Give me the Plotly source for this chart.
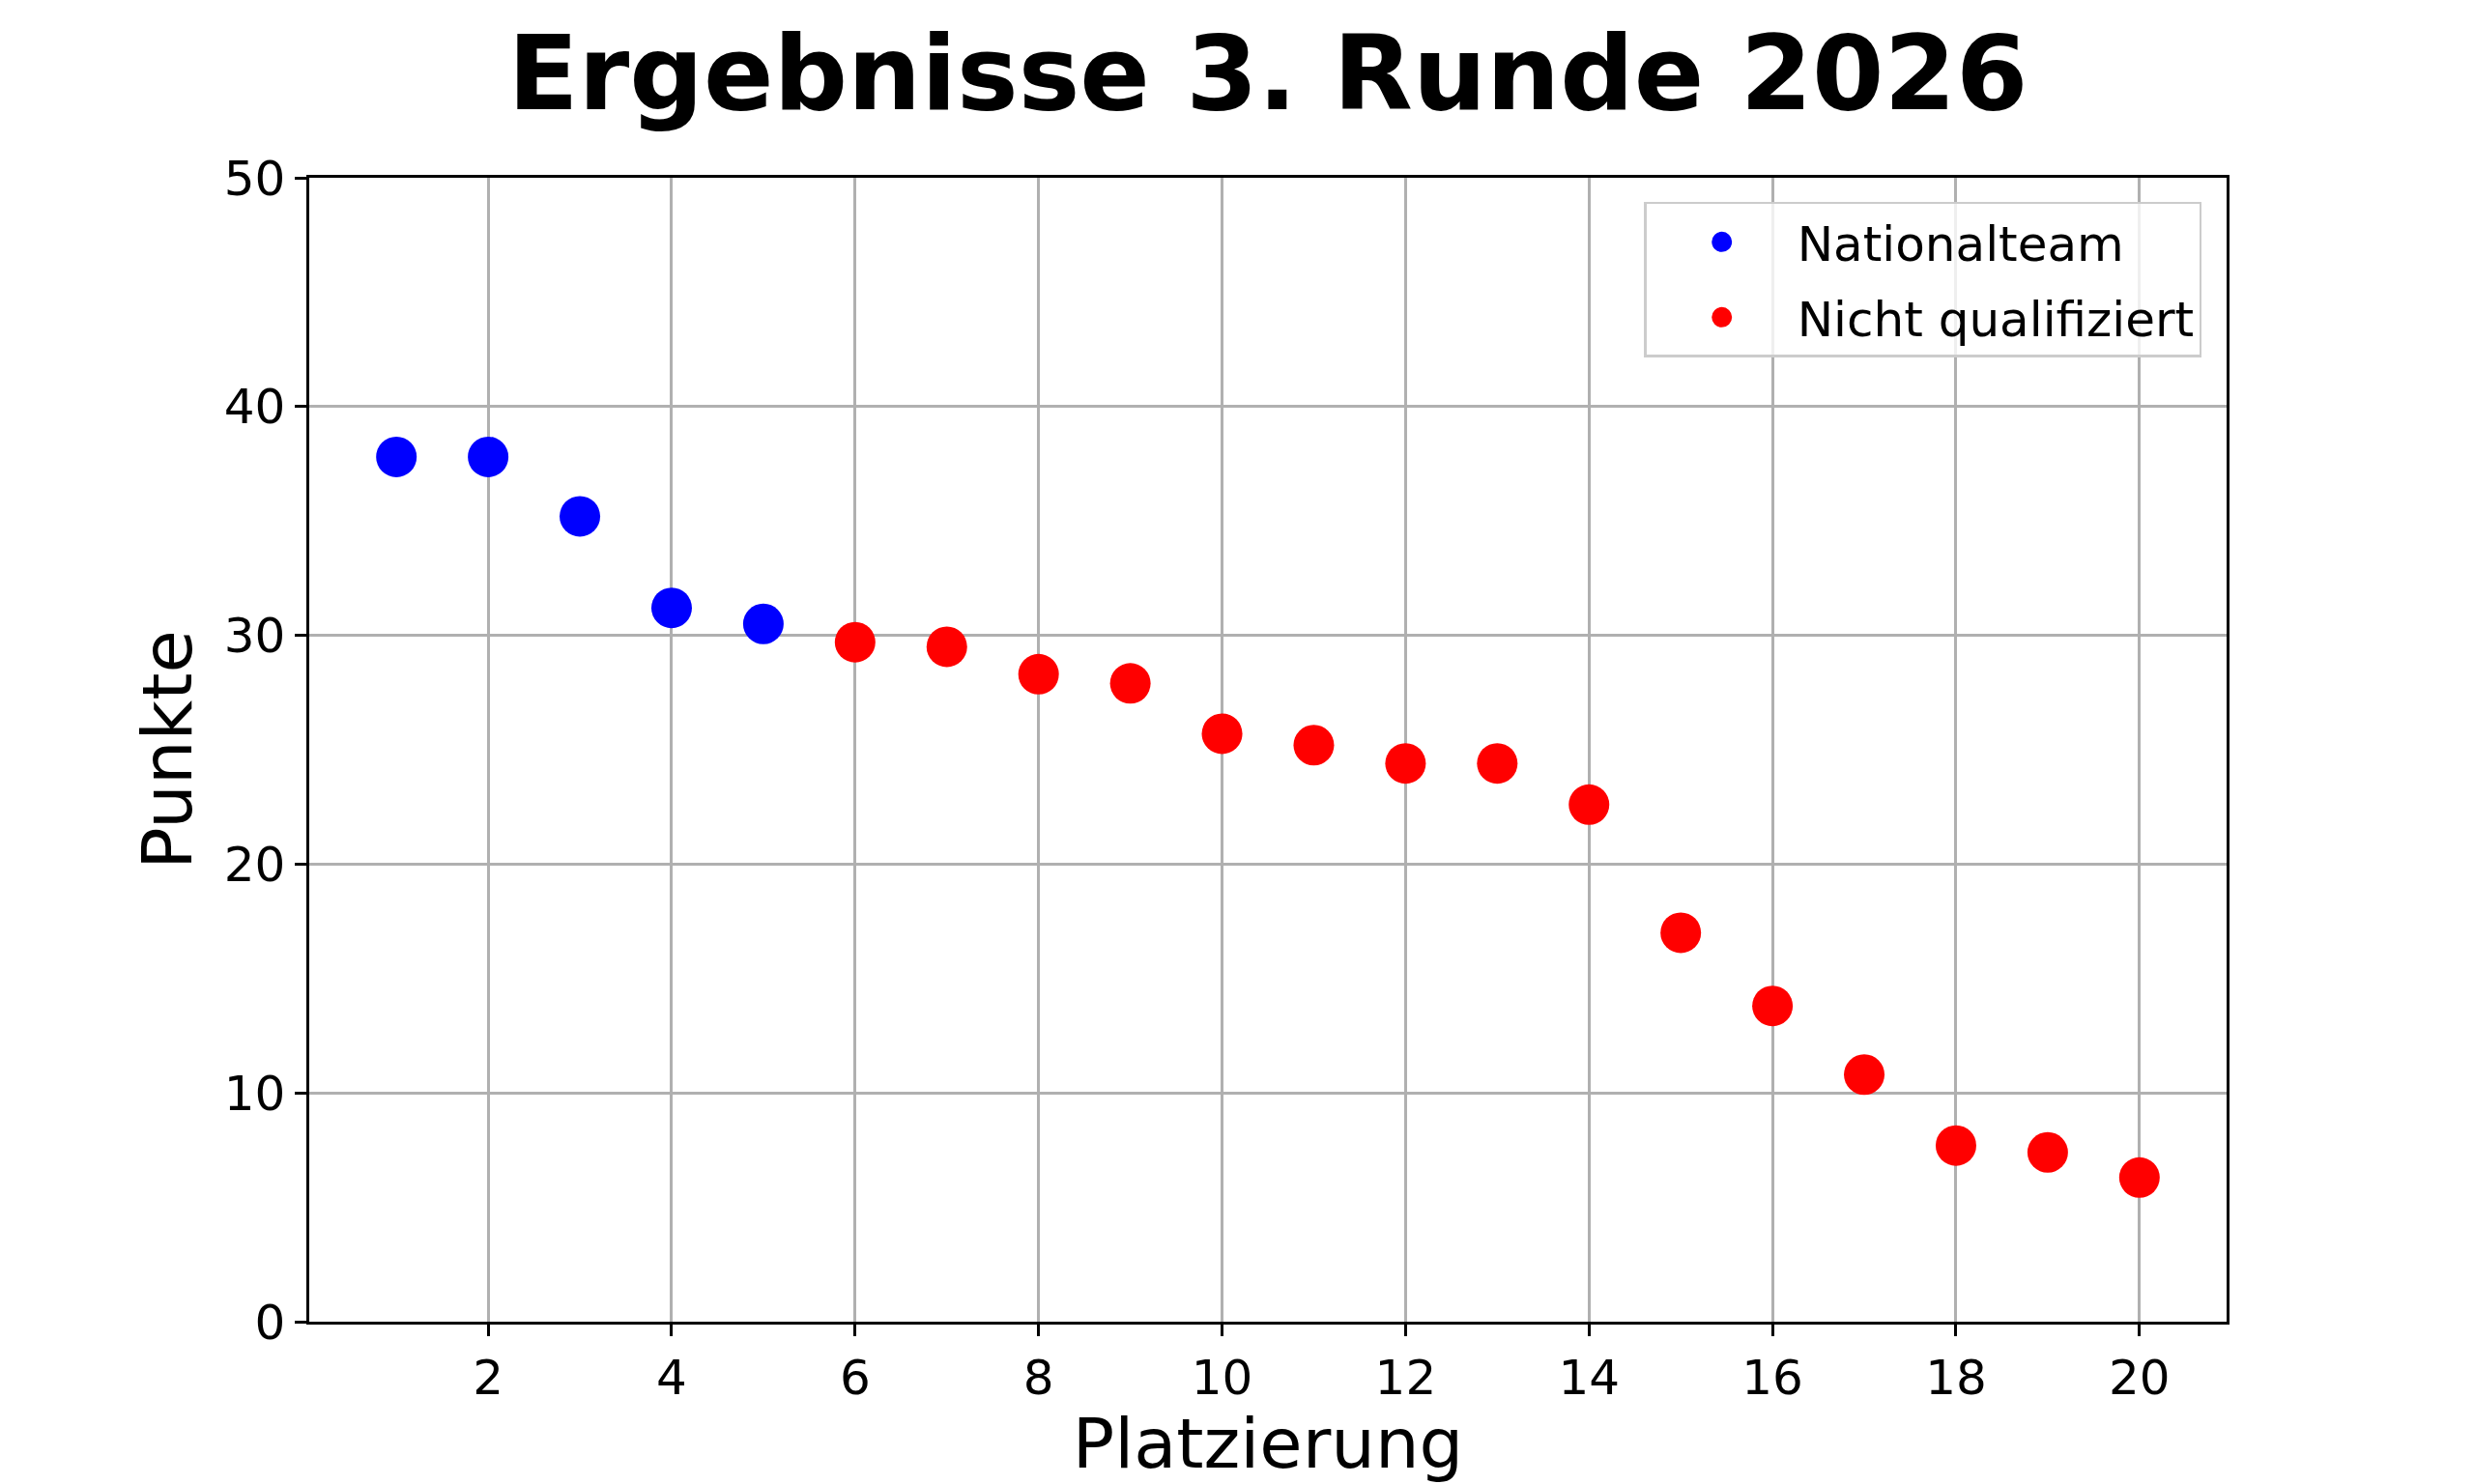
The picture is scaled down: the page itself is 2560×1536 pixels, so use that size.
import plotly.graph_objects as go

# Data
platz_national = [1, 2, 3, 4, 5]
punkte_national = [37.8, 37.8, 35.2, 31.2, 30.5]

platz_nicht = [6, 7, 8, 9, 10, 11, 12, 13, 14, 15, 16, 17, 18, 19, 20]
punkte_nicht = [29.7, 29.5, 28.3, 27.9, 25.7, 25.2, 24.4, 24.4, 22.6, 17.0, 13.8, 10.8, 7.7, 7.4, 6.3]

y_ticks = [0, 10, 20, 30, 40, 50]
x_ticks = [2, 4, 6, 8, 10, 12, 14, 16, 18, 20]

series_names = ["Nationalteam", "Nicht qualifiziert"]
series_colors = ["#0000ff", "#ff0000"]

FONT = "DejaVu Sans"

fig = go.Figure()
for xs, ys, name, col, grp in [
    (platz_national, punkte_national, series_names[0], series_colors[0], "a"),
    (platz_nicht, punkte_nicht, series_names[1], series_colors[1], "b"),
]:
    fig.add_trace(go.Scatter(
        x=xs, y=ys, mode="markers", name=name, legendgroup=grp, showlegend=False,
        marker=dict(color=col, size=42, line=dict(width=0)),
    ))
    # legend-only entry with a bolder symbol (legend symbols are size-capped)
    fig.add_trace(go.Scatter(
        x=[None], y=[None], mode="markers", name=name, legendgroup=grp, showlegend=True,
        marker=dict(color=col, size=16, line=dict(width=5, color=col)),
    ))

axis_common = dict(
    showline=True, linecolor="black", linewidth=2.5, mirror=True,
    ticks="outside", ticklen=12, tickwidth=2.5, tickcolor="black",
    showgrid=True, gridcolor="#b0b0b0", gridwidth=2.5,
    zeroline=False,
    tickfont=dict(family=FONT, size=50, color="black"),
)

fig.update_layout(
    width=2552, height=1528,
    margin=dict(l=312, r=256, t=176, b=168, autoexpand=False),
    paper_bgcolor="white", plot_bgcolor="white",
    font=dict(family=FONT, color="black"),
    title=dict(
        text="<b>Ergebnisse 3. Runde 2026</b>",
        font=dict(family=FONT, size=107, color="black"),
        x=0.5, xanchor="center", xref="paper",
        y=1 - 68 / 1528, yanchor="middle", yref="container",
    ),
    xaxis=dict(
        range=[0.05, 20.95], tickmode="array", tickvals=x_ticks,
        ticktext=[str(v) for v in x_ticks],
        title=dict(text="Platzierung", font=dict(family=FONT, size=72, color="black"), standoff=6),
        automargin=False,
        **axis_common,
    ),
    yaxis=dict(
        range=[0, 50], tickmode="array", tickvals=y_ticks,
        ticktext=[str(v) for v in y_ticks],
        title=dict(text="Punkte", font=dict(family=FONT, size=72, color="black"), standoff=10),
        automargin=False,
        **axis_common,
    ),
    legend=dict(
        x=0.987, xanchor="right", y=0.979, yanchor="top",
        bgcolor="rgba(255,255,255,0.8)", bordercolor="#cccccc", borderwidth=2.5,
        font=dict(family=FONT, size=50, color="black"),
        itemsizing="trace", itemwidth=146, tracegroupgap=10,
    ),
    showlegend=True,
)

fig.write_html("out.html")
